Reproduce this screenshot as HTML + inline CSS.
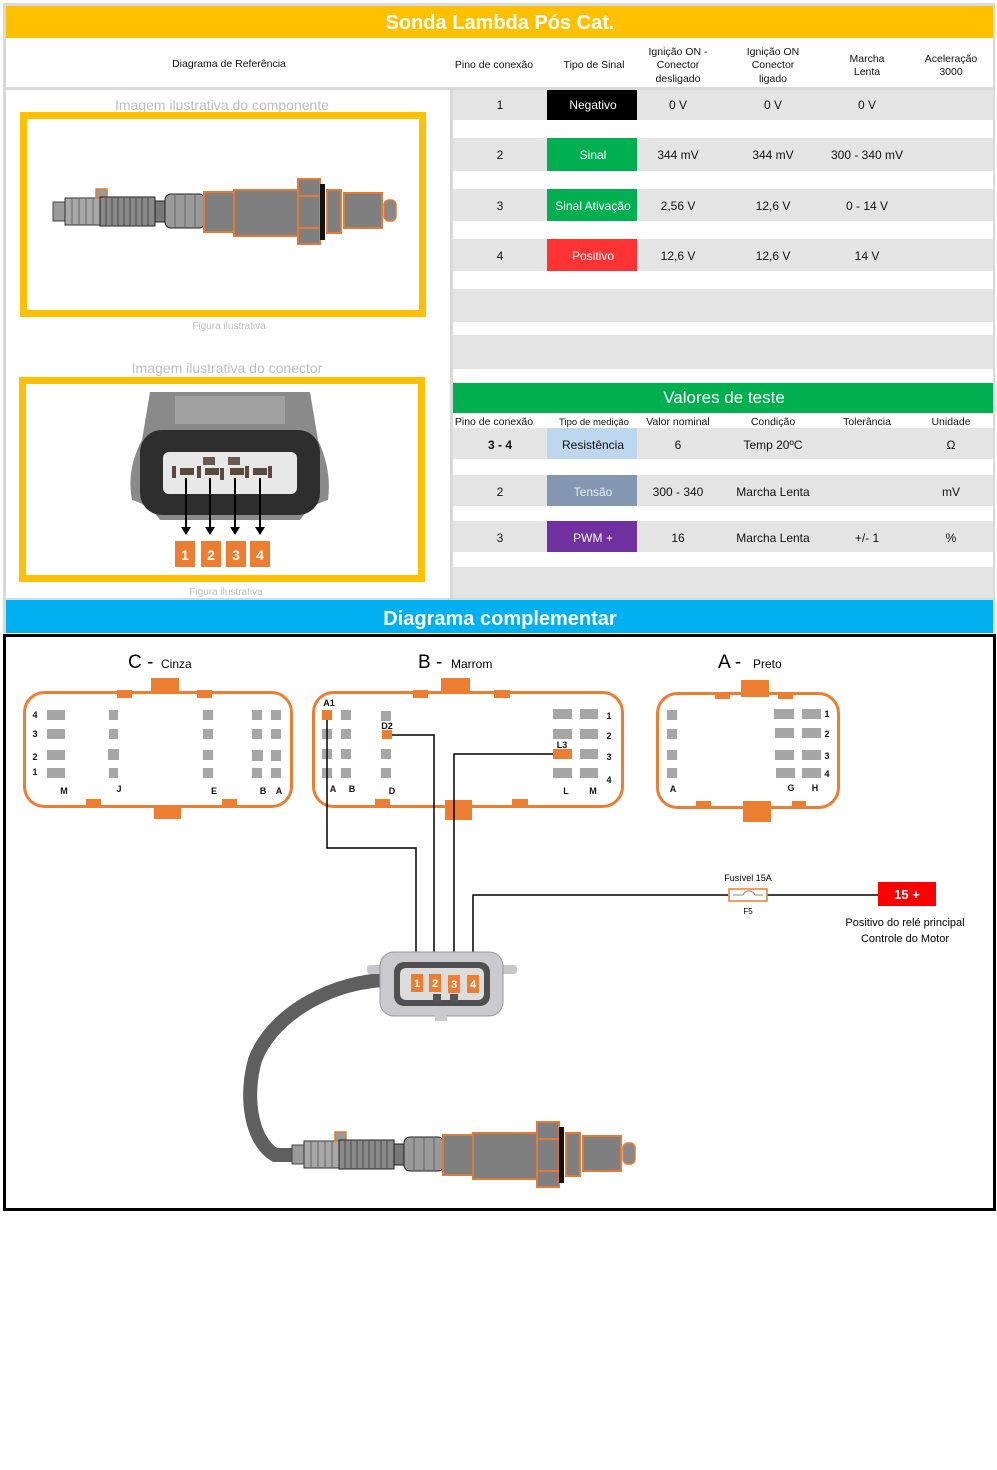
<!DOCTYPE html>
<html><head><meta charset="utf-8">
<style>
html,body{margin:0;padding:0;background:#fff;}
svg{display:block;font-family:"Liberation Sans",Arial,sans-serif;}
.h{font-size:10.5px;fill:#111;text-anchor:middle;}
.v{font-size:12px;fill:#111;text-anchor:middle;}
.g{fill:#a6a6a6;}
.o{fill:#ed7d31;}
.s{font-size:9px;font-weight:bold;fill:#111;text-anchor:middle;}
</style></head>
<body>
<svg width="997" height="1470" viewBox="0 0 997 1470" xmlns="http://www.w3.org/2000/svg">
<defs>
<g id="sensor">
  <rect x="53" y="202" width="14" height="19" fill="#9a9a9a" stroke="#444"/>
  <rect x="65" y="198" width="35" height="27" fill="#a8a8a8" stroke="#333"/>
  <path d="M72 198v27M79 198v27M86 198v27M93 198v27" stroke="#666" stroke-width="1"/>
  <rect x="96" y="189" width="11" height="9" fill="#999" stroke="#e07b39" stroke-width="1.5"/>
  <rect x="100" y="197" width="55" height="29" fill="#8a8a8a" stroke="#222"/>
  <path d="M106 197v29M112 197v29M118 197v29M124 197v29M130 197v29M136 197v29M142 197v29M148 197v29" stroke="#555" stroke-width="1.2"/>
  <rect x="155" y="201" width="12" height="21" fill="#777" stroke="#222"/>
  <rect x="165" y="194" width="40" height="34" rx="6" fill="#9a9a9a" stroke="#222"/>
  <path d="M175 194v34M185 194v34M195 194v34" stroke="#666"/>
  <rect x="204" y="192" width="30" height="40" fill="#7f7f7f" stroke="#e07b39" stroke-width="2"/>
  <rect x="234" y="190" width="65" height="46" fill="#7f7f7f" stroke="#e07b39" stroke-width="2"/>
  <rect x="298" y="179" width="22" height="65" fill="#7f7f7f" stroke="#e07b39" stroke-width="2"/>
  <path d="M298 196h22M298 228h22" stroke="#e07b39" stroke-width="2"/>
  <rect x="320" y="184" width="5" height="56" fill="#111"/>
  <rect x="327" y="190" width="14" height="43" fill="#7f7f7f" stroke="#e07b39" stroke-width="2"/>
  <rect x="344" y="193" width="38" height="35" fill="#7f7f7f" stroke="#e07b39" stroke-width="2"/>
  <rect x="384" y="200" width="12" height="21" rx="5" fill="#888" stroke="#e07b39" stroke-width="1.5"/>
</g>
</defs>

<!-- outer gray frame -->
<rect x="3" y="3" width="992" height="630" fill="#d9d9d9"/>
<rect x="6" y="6" width="987" height="32" fill="#ffc000"/>
<text x="500" y="29" font-size="20" font-weight="bold" fill="#fff" text-anchor="middle">Sonda Lambda Pós Cat.</text>
<rect x="6" y="38" width="987" height="49" fill="#fff"/>
<text class="h" x="229" y="67">Diagrama de Referência</text>
<text class="h" x="494" y="68">Pino de conexão</text>
<text class="h" x="594" y="68" font-size="9.5">Tipo de Sinal</text>
<text class="h" x="678" y="55">Ignição ON -</text><text class="h" x="678" y="68">Conector</text><text class="h" x="678" y="82">desligado</text>
<text class="h" x="773" y="55">Ignição ON</text><text class="h" x="773" y="68">Conector</text><text class="h" x="773" y="82">ligado</text>
<text class="h" x="867" y="62">Marcha</text><text class="h" x="867" y="75">Lenta</text>
<text class="h" x="951" y="62">Aceleração</text><text class="h" x="951" y="75">3000</text>

<!-- left panel -->
<rect x="6" y="90" width="444" height="508" fill="#fff"/>
<text x="222" y="110" font-size="14" fill="#bdbdbd" text-anchor="middle">Imagem ilustrativa do componente</text>
<rect x="23.5" y="115.5" width="399" height="198" fill="#fff" stroke="#ffc000" stroke-width="7"/>
<use href="#sensor"/>
<text x="229" y="329" font-size="10" fill="#bdbdbd" text-anchor="middle">Figura ilustrativa</text>
<text x="227" y="373" font-size="14" fill="#bdbdbd" text-anchor="middle">Imagem ilustrativa do conector</text>
<rect x="22.5" y="380.5" width="399" height="198" fill="#fff" stroke="#ffc000" stroke-width="7"/>
<!-- connector photo -->
<path d="M150 392 H310 L318 440 Q332 470 328 500 Q310 505 300 520 H160 Q150 505 132 500 Q126 470 142 440 Z" fill="#8a8a8a"/>
<rect x="175" y="396" width="110" height="28" fill="#a0a0a0"/>
<rect x="140" y="430" width="180" height="85" rx="22" fill="#2e2e2e"/>
<rect x="163" y="452" width="134" height="42" rx="6" fill="#e8e8e8"/>
<rect x="203" y="457" width="12" height="8" fill="#6b5a4e"/><rect x="228" y="457" width="12" height="8" fill="#6b5a4e"/>
<g fill="#5a4a3e"><rect x="180" y="468" width="14" height="7"/><rect x="205" y="468" width="14" height="7"/><rect x="230" y="468" width="14" height="7"/><rect x="253" y="468" width="14" height="7"/>
<rect x="172" y="466" width="4" height="12"/><rect x="197" y="466" width="4" height="12"/><rect x="220" y="468" width="4" height="12"/><rect x="245" y="466" width="4" height="12"/><rect x="268" y="466" width="4" height="12"/></g>
<g stroke="#000" stroke-width="2"><path d="M186 478V528M210 478V528M235 478V528M260 478V528"/></g>
<g fill="#000"><path d="M181 527h10l-5 8z M205 527h10l-5 8z M230 527h10l-5 8z M255 527h10l-5 8z"/></g>
<g fill="#ed7d31"><rect x="175" y="541" width="20" height="26"/><rect x="201" y="541" width="20" height="26"/><rect x="226" y="541" width="20" height="26"/><rect x="250" y="541" width="20" height="26"/></g>
<g font-size="14" font-weight="bold" fill="#fff" text-anchor="middle"><text x="185" y="560">1</text><text x="211" y="560">2</text><text x="236" y="560">3</text><text x="260" y="560">4</text></g>
<text x="226" y="595" font-size="10" fill="#bdbdbd" text-anchor="middle">Figura ilustrativa</text>

<!-- right table -->
<rect x="453" y="90" width="540" height="293" fill="#fff"/>
<g fill="#e4e4e4">
<rect x="453" y="90" width="540" height="30"/><rect x="453" y="138" width="540" height="33"/><rect x="453" y="189" width="540" height="32"/><rect x="453" y="239" width="540" height="32"/><rect x="453" y="289" width="540" height="33"/><rect x="453" y="335" width="540" height="34"/>
</g>
<rect x="547" y="90" width="90" height="30" fill="#000"/>
<rect x="547" y="138" width="90" height="33" fill="#00b050"/>
<rect x="547" y="189" width="90" height="32" fill="#00b050"/>
<rect x="547" y="239" width="90" height="32" fill="#ff3333"/>
<g class="v">
<text x="500" y="109">1</text><text x="593" y="109" fill="#fff">Negativo</text><text x="678" y="109">0 V</text><text x="773" y="109">0 V</text><text x="867" y="109">0 V</text>
<text x="500" y="159">2</text><text x="593" y="159" fill="#fff">Sinal</text><text x="678" y="159">344 mV</text><text x="773" y="159">344 mV</text><text x="867" y="159">300 - 340 mV</text>
<text x="500" y="210">3</text><text x="593" y="210" fill="#fff">Sinal Ativação</text><text x="678" y="210">2,56 V</text><text x="773" y="210">12,6 V</text><text x="867" y="210">0 - 14 V</text>
<text x="500" y="260">4</text><text x="593" y="260" fill="#fff">Positivo</text><text x="678" y="260">12,6 V</text><text x="773" y="260">12,6 V</text><text x="867" y="260">14 V</text>
</g>
<rect x="453" y="383" width="540" height="30" fill="#00b050"/>
<text x="724" y="403" font-size="17" fill="#fff" text-anchor="middle">Valores de teste</text>
<rect x="453" y="413" width="540" height="185" fill="#fff"/>
<g class="h" font-size="11"><text x="494" y="425">Pino de conexão</text><text x="594" y="425" font-size="9.5">Tipo de medição</text><text x="678" y="425">Valor nominal</text><text x="773" y="425">Condição</text><text x="867" y="425">Tolerância</text><text x="951" y="425">Unidade</text></g>
<g fill="#e4e4e4"><rect x="453" y="428" width="540" height="31"/><rect x="453" y="475" width="540" height="31"/><rect x="453" y="521" width="540" height="31"/><rect x="453" y="567" width="540" height="31"/></g>
<rect x="547" y="428" width="90" height="31" fill="#bdd7ee"/>
<rect x="547" y="475" width="90" height="31" fill="#8497b0"/>
<rect x="547" y="521" width="90" height="31" fill="#7030a0"/>
<g class="v">
<text x="500" y="449" font-weight="bold">3 - 4</text><text x="593" y="449">Resistência</text><text x="678" y="449">6</text><text x="773" y="449">Temp 20ºC</text><text x="951" y="449">Ω</text>
<text x="500" y="496">2</text><text x="593" y="496" fill="#e8edf3">Tensão</text><text x="678" y="496">300 - 340</text><text x="773" y="496">Marcha Lenta</text><text x="951" y="496">mV</text>
<text x="500" y="542">3</text><text x="593" y="542" fill="#fff">PWM +</text><text x="678" y="542">16</text><text x="773" y="542">Marcha Lenta</text><text x="867" y="542">+/- 1</text><text x="951" y="542">%</text>
</g>

<!-- blue bar -->
<rect x="6" y="600" width="987" height="33" fill="#00b0f0"/>
<text x="500" y="625" font-size="20" font-weight="bold" fill="#fff" text-anchor="middle">Diagrama complementar</text>

<!-- diagram -->
<rect x="4.5" y="635.5" width="990" height="574" fill="#fff" stroke="#000" stroke-width="3"/>

<!-- C connector -->
<text x="128" y="668" font-size="19" fill="#000">C -</text><text x="161" y="668" font-size="12" fill="#000">Cinza</text>
<rect x="151" y="678" width="28" height="15" class="o"/><rect x="117" y="690" width="15" height="8" class="o"/><rect x="197" y="690" width="15" height="8" class="o"/>
<rect x="154" y="806" width="27" height="13" class="o"/><rect x="86" y="799" width="15" height="8" class="o"/><rect x="222" y="799" width="15" height="8" class="o"/>
<rect x="24.5" y="692.5" width="267" height="114" rx="20" fill="none" stroke="#ed7d31" stroke-width="3"/>
<g class="g">
<rect x="47" y="710" width="18" height="10"/><rect x="47" y="729" width="18" height="10"/><rect x="47" y="750" width="18" height="10"/><rect x="47" y="768" width="18" height="10"/>
<rect x="109" y="710" width="9" height="10"/><rect x="109" y="729" width="9" height="10"/><rect x="108" y="749" width="11" height="11"/><rect x="109" y="768" width="9" height="10"/>
<rect x="203" y="710" width="10" height="10"/><rect x="203" y="729" width="10" height="10"/><rect x="203" y="750" width="10" height="10"/><rect x="203" y="768" width="10" height="10"/>
<rect x="252" y="710" width="10" height="10"/><rect x="271" y="710" width="10" height="10"/><rect x="252" y="729" width="10" height="10"/><rect x="271" y="729" width="10" height="10"/><rect x="252" y="750" width="11" height="11"/><rect x="271" y="750" width="10" height="11"/><rect x="252" y="768" width="10" height="10"/><rect x="271" y="768" width="10" height="10"/>
</g>
<g class="s"><text x="35" y="718">4</text><text x="35" y="737">3</text><text x="35" y="760">2</text><text x="35" y="775">1</text>
<text x="64" y="794">M</text><text x="119" y="792">J</text><text x="214" y="794">E</text><text x="263" y="794">B</text><text x="279" y="794">A</text></g>

<!-- B connector -->
<text x="418" y="668" font-size="19" fill="#000">B -</text><text x="451" y="668" font-size="12" fill="#000">Marrom</text>
<rect x="441" y="678" width="29" height="15" class="o"/><rect x="413" y="690" width="15" height="8" class="o"/><rect x="494" y="690" width="16" height="8" class="o"/>
<rect x="445" y="800" width="27" height="20" class="o"/><rect x="375" y="799" width="15" height="8" class="o"/><rect x="512" y="799" width="16" height="8" class="o"/>
<rect x="313.5" y="692.5" width="309" height="114" rx="20" fill="none" stroke="#ed7d31" stroke-width="3"/>
<g class="g">
<rect x="322" y="729" width="10" height="10"/><rect x="322" y="749" width="10" height="10"/><rect x="322" y="768" width="10" height="10"/>
<rect x="341" y="710" width="10" height="10"/><rect x="341" y="729" width="10" height="10"/><rect x="341" y="749" width="10" height="10"/><rect x="341" y="768" width="10" height="10"/>
<rect x="381" y="711" width="10" height="10"/><rect x="381" y="749" width="10" height="10"/><rect x="381" y="768" width="10" height="10"/>
<rect x="553" y="709" width="19" height="10"/><rect x="553" y="729" width="19" height="10"/><rect x="553" y="768" width="19" height="10"/>
<rect x="580" y="709" width="18" height="10"/><rect x="580" y="729" width="18" height="10"/><rect x="580" y="749" width="18" height="10"/><rect x="580" y="768" width="18" height="10"/>
</g>
<rect x="322" y="710" width="10" height="10" class="o"/><rect x="382" y="730" width="10" height="9" class="o"/><rect x="553" y="749" width="19" height="10" class="o"/>
<g class="s"><text x="329" y="706">A1</text><text x="387" y="729">D2</text><text x="562" y="748">L3</text>
<text x="609" y="719">1</text><text x="609" y="739">2</text><text x="609" y="760">3</text><text x="609" y="783">4</text>
<text x="333" y="792">A</text><text x="352" y="792">B</text><text x="392" y="794">D</text><text x="566" y="794">L</text><text x="593" y="794">M</text></g>

<!-- A connector -->
<text x="718" y="668" font-size="19" fill="#000">A -</text><text x="753" y="668" font-size="12" fill="#000">Preto</text>
<rect x="741" y="680" width="28" height="17" class="o"/><rect x="715" y="692" width="15" height="7" class="o"/><rect x="778" y="692" width="15" height="7" class="o"/>
<rect x="743" y="801" width="28" height="21" class="o"/><rect x="696" y="801" width="15" height="7" class="o"/><rect x="792" y="801" width="14" height="7" class="o"/>
<rect x="657.5" y="693.5" width="181" height="114" rx="20" fill="none" stroke="#ed7d31" stroke-width="3"/>
<g class="g">
<rect x="667" y="710" width="10" height="10"/><rect x="667" y="729" width="10" height="10"/><rect x="667" y="750" width="10" height="10"/><rect x="667" y="768" width="10" height="10"/>
<rect x="774" y="709" width="20" height="10"/><rect x="775" y="728" width="19" height="10"/><rect x="775" y="750" width="19" height="10"/><rect x="776" y="768" width="19" height="10"/>
<rect x="802" y="709" width="19" height="10"/><rect x="802" y="728" width="19" height="10"/><rect x="802" y="750" width="19" height="10"/><rect x="802" y="768" width="19" height="10"/>
</g>
<g class="s"><text x="827" y="717">1</text><text x="827" y="737">2</text><text x="827" y="759">3</text><text x="827" y="777">4</text>
<text x="673" y="792">A</text><text x="791" y="791">G</text><text x="815" y="791">H</text></g>

<!-- wires -->
<g fill="none" stroke="#000" stroke-width="1.5">
<path d="M327 720V848H416V978"/>
<path d="M392 735H434V978"/>
<path d="M553 754H454V978"/>
<path d="M473 978V895H728"/>
<path d="M767 895H878"/>
</g>
<rect x="729" y="889" width="38" height="12" fill="#fff" stroke="#ed7d31" stroke-width="1.5"/>
<path d="M733 895h10q2-4 5-4h2q3 0 5 4h8" fill="none" stroke="#888" stroke-width="1"/>
<text x="748" y="881" font-size="9" fill="#000" text-anchor="middle">Fusível 15A</text>
<text x="748" y="914" font-size="8" fill="#000" text-anchor="middle">F5</text>
<rect x="878" y="882" width="58" height="24" fill="#f00"/>
<text x="907" y="899" font-size="13" font-weight="bold" fill="#fff" text-anchor="middle">15 +</text>
<text x="905" y="926" font-size="11" fill="#000" text-anchor="middle">Positivo do relé principal</text>
<text x="905" y="942" font-size="11" fill="#000" text-anchor="middle">Controle do Motor</text>

<!-- cable -->
<path d="M382 980 C320 985 270 1020 255 1060 C245 1095 250 1140 275 1155 L295 1155" fill="none" stroke="#5f5f5f" stroke-width="14"/>
<!-- bottom connector -->
<rect x="367" y="965" width="150" height="9" rx="3" fill="#c8c8cc"/>
<rect x="380" y="952" width="123" height="64" rx="14" fill="#c9c9ce" stroke="#999"/>
<rect x="435" y="1012" width="12" height="9" fill="#c9c9ce"/>
<rect x="394" y="962" width="96" height="44" rx="10" fill="#505050"/>
<rect x="400" y="968" width="84" height="32" rx="6" fill="#dcdcdc"/>
<rect x="411" y="974" width="12" height="18" class="o"/><rect x="429" y="974" width="12" height="18" class="o"/><rect x="448" y="975" width="12" height="18" class="o"/><rect x="467" y="975" width="12" height="18" class="o"/>
<g font-size="11" font-weight="bold" fill="#fff" text-anchor="middle"><text x="417" y="987">1</text><text x="435" y="987">2</text><text x="454" y="988">3</text><text x="473" y="988">4</text></g>
<rect x="433" y="994" width="8" height="8" fill="#555"/><rect x="450" y="994" width="8" height="8" fill="#555"/>
<use href="#sensor" transform="translate(239,943)"/>
</svg>
</body></html>
